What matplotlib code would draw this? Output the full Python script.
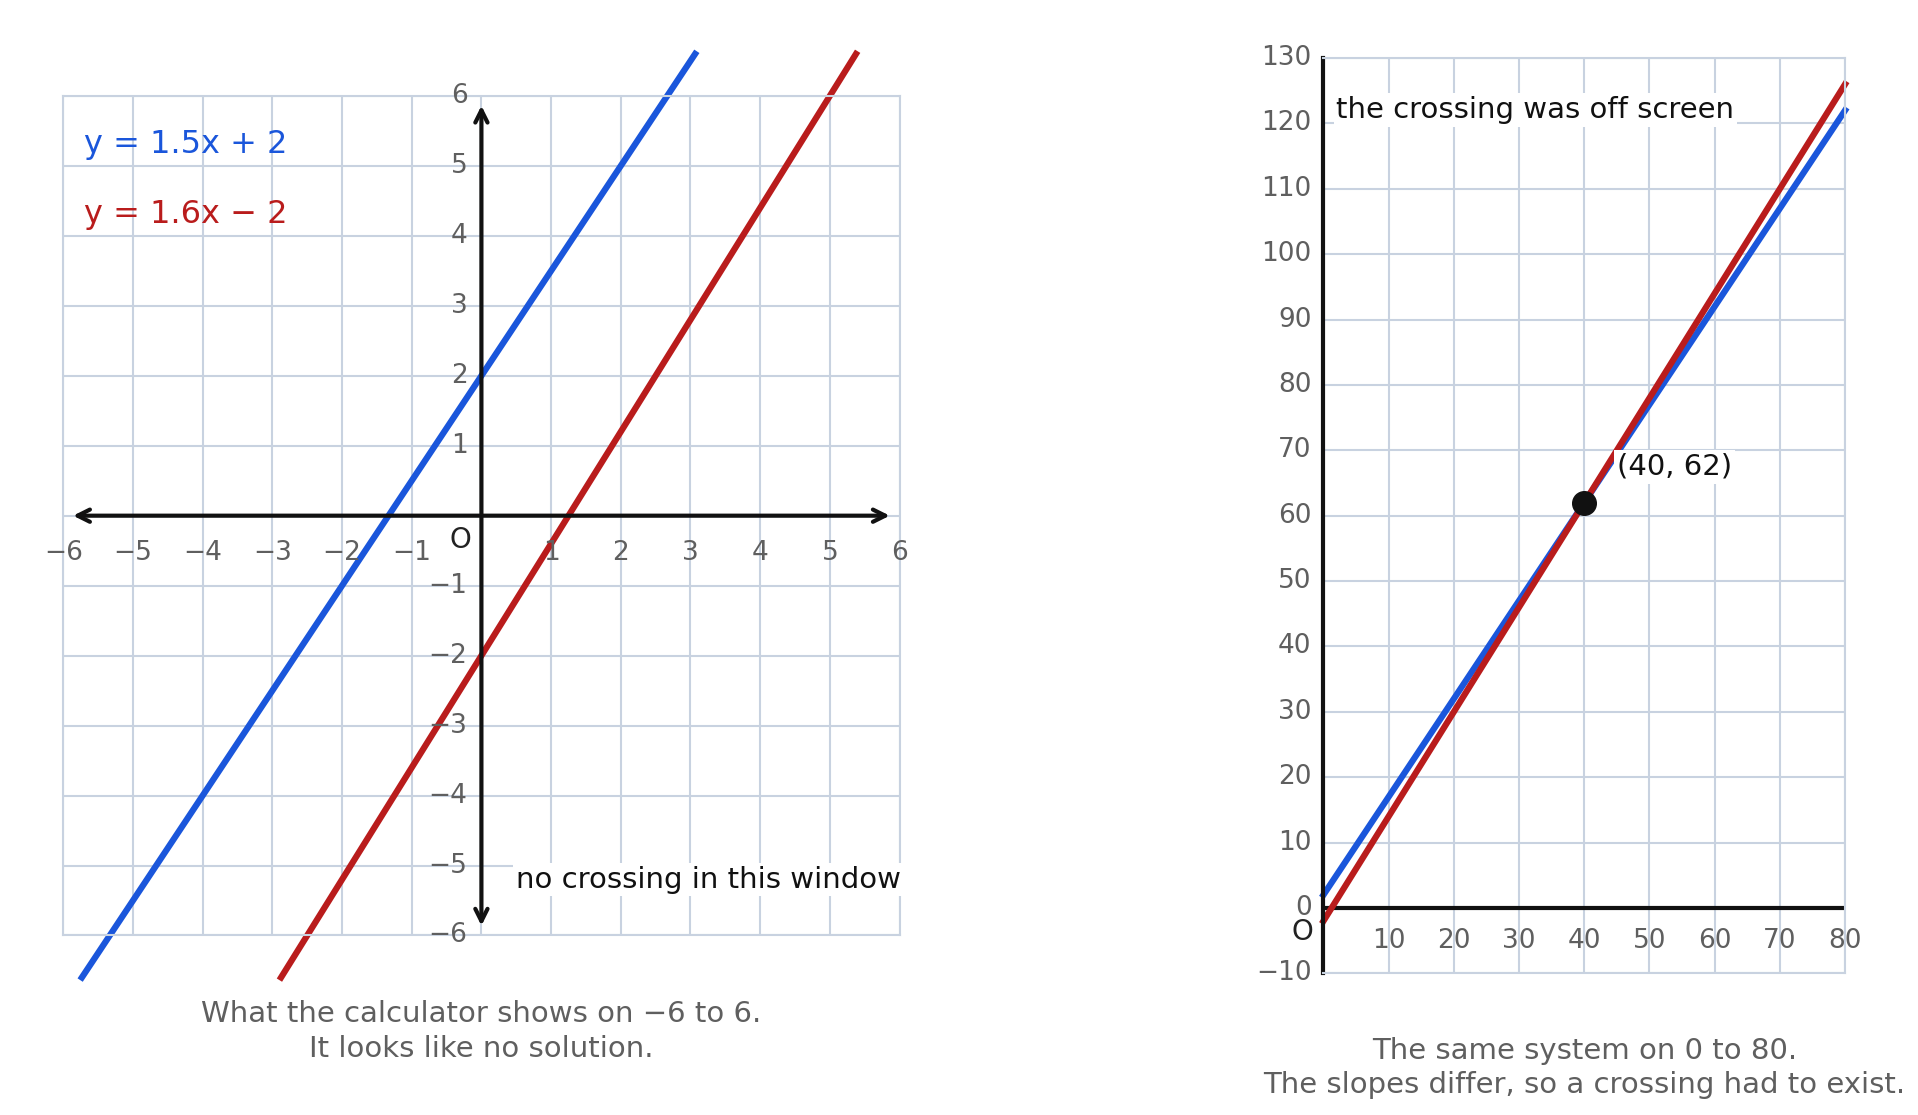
import numpy as np
import matplotlib.pyplot as plt

m1, b1 = 1.5, 2
m2, b2 = 1.6, -2
left_ticks = list(range(-6, 7))
right_xticks = list(range(10, 90, 10))
right_yticks = list(range(-10, 140, 10))
cross = (40, 62)
BLUE = '#1a56db'; RED = '#b91c1c'; GRID = '#c8d2e0'; TG = '#5f5f5f'

plt.rcParams['font.family'] = ['DejaVu Sans']
fig = plt.figure(figsize=(19.18, 11.15), dpi=100)

# Left panel
ax = fig.add_axes([0.033, 0.161, 0.436, 0.753])
ax.set_xlim(-6, 6); ax.set_ylim(-6, 6)
ax.set_xticks(left_ticks); ax.set_yticks(left_ticks)
ax.grid(True, color=GRID, lw=1.5)
ax.tick_params(length=0, labelbottom=False, labelleft=False)
for s in ax.spines.values():
    s.set_color(GRID); s.set_linewidth(1.5)
ax.annotate('', xy=(5.9, 0), xytext=(-5.9, 0), arrowprops=dict(arrowstyle='<->', lw=3, color='#111', mutation_scale=22))
ax.annotate('', xy=(0, 5.9), xytext=(0, -5.9), arrowprops=dict(arrowstyle='<->', lw=3, color='#111', mutation_scale=22))
for t in left_ticks:
    if t != 0:
        ax.text(t, -0.35, f'{t}'.replace('-', '−'), ha='center', va='top', fontsize=19, color=TG)
        ax.text(-0.2, t, f'{t}'.replace('-', '−'), ha='right', va='center', fontsize=19, color=TG)
ax.text(-0.15, -0.15, 'O', ha='right', va='top', fontsize=20, color='#222')
yr = np.array([-6.6, 6.6])
ax.plot((yr - b1) / m1, yr, color=BLUE, lw=4.5, clip_on=False)
ax.plot((yr - b2) / m2, yr, color=RED, lw=4.5, clip_on=False)
ax.text(-5.7, 5.3, 'y = 1.5x + 2', color=BLUE, fontsize=23, va='center')
ax.text(-5.7, 4.3, 'y = 1.6x − 2', color=RED, fontsize=23, va='center')
ax.text(0.5, -5.2, 'no crossing in this window', fontsize=21, va='center', color='#111',
        bbox=dict(fc='white', ec='none', pad=2))
fig.text(0.251, 0.075, 'What the calculator shows on −6 to 6.\nIt looks like no solution.',
         ha='center', va='center', fontsize=21, color=TG, linespacing=1.3)

# Right panel
ax2 = fig.add_axes([0.690, 0.127, 0.272, 0.821])
ax2.set_xlim(0, 80); ax2.set_ylim(-10, 130)
ax2.set_xticks(right_xticks); ax2.set_yticks(right_yticks)
ax2.grid(True, color=GRID, lw=1.5)
ax2.tick_params(length=0, labelbottom=False, labelleft=False)
for s in ax2.spines.values():
    s.set_color(GRID); s.set_linewidth(1.5)
ax2.spines['left'].set_color('#111'); ax2.spines['left'].set_linewidth(3)
ax2.axhline(0, color='#111', lw=3)
for t in right_xticks:
    ax2.text(t, -3, str(t), ha='center', va='top', fontsize=19, color=TG)
for t in right_yticks:
    ax2.text(-1.8, t, f'{t}'.replace('-', '−'), ha='right', va='center', fontsize=19, color=TG)
ax2.text(-1.5, -1.5, 'O', ha='right', va='top', fontsize=20, color='#222')
xr = np.array([0, 80])
ax2.plot(xr, m1 * xr + b1, color=BLUE, lw=4.5, clip_on=False)
ax2.plot(xr, m2 * xr + b2, color=RED, lw=4.5, clip_on=False)
ax2.plot(*cross, 'o', color='#111', ms=17, zorder=5)
ax2.text(cross[0] + 5, cross[1] + 5.5, f'({cross[0]}, {cross[1]})', fontsize=21, va='center', color='#111',
         bbox=dict(fc='white', ec='none', pad=2))
ax2.text(2, 122, 'the crossing was off screen', fontsize=21, va='center', color='#111',
         bbox=dict(fc='white', ec='none', pad=2))
fig.text(0.826, 0.042, 'The same system on 0 to 80.\nThe slopes differ, so a crossing had to exist.',
         ha='center', va='center', fontsize=21, color=TG, linespacing=1.3)

fig.savefig('out.png', dpi=100)
